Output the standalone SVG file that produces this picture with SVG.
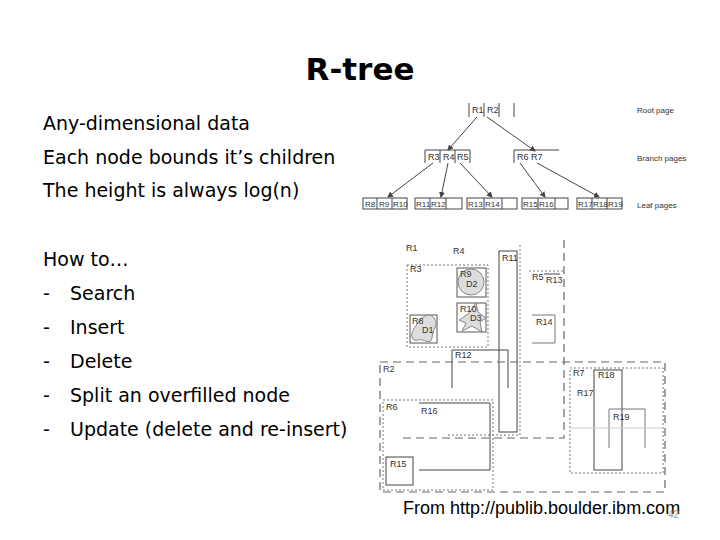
<svg xmlns="http://www.w3.org/2000/svg" width="720" height="540" viewBox="0 0 720 540">
<style>
.t{font-family:"DejaVu Sans",sans-serif;font-size:19px;fill:#000}
.s{font-family:"Liberation Sans",Arial,sans-serif;font-size:9px;fill:#333}
.l{font-family:"Liberation Sans",Arial,sans-serif;font-size:8px;fill:#333}
.b{fill:#fff;stroke:#444;stroke-width:1}
.ln{fill:none;stroke:#444;stroke-width:1}
.dot{fill:none;stroke:#777;stroke-width:1;stroke-dasharray:2 2}
.dash{fill:none;stroke:#666;stroke-width:1.2;stroke-dasharray:8 5}
</style>
<defs><marker id="a" markerWidth="6" markerHeight="6" refX="5" refY="3" orient="auto"><path d="M0,0L6,3L0,6z" fill="#444"/></marker></defs>
<rect width="720" height="540" fill="#fff"/>
<text x="360" y="80" text-anchor="middle" style="font-family:'DejaVu Sans',sans-serif;font-size:31px;font-weight:bold">R-tree</text>
<g id="bullets">
<text class="t" x="43" y="130">Any-dimensional data</text>
<text class="t" x="43" y="164">Each node bounds it’s children</text>
<text class="t" x="43" y="197">The height is always log(n)</text>
<text class="t" x="43" y="266">How to…</text>
<text class="t" x="43" y="300">-</text><text class="t" x="70" y="300">Search</text>
<text class="t" x="43" y="334">-</text><text class="t" x="70" y="334">Insert</text>
<text class="t" x="43" y="368">-</text><text class="t" x="70" y="368">Delete</text>
<text class="t" x="43" y="402">-</text><text class="t" x="70" y="402">Split an overfilled node</text>
<text class="t" x="43" y="436">-</text><text class="t" x="70" y="436">Update (delete and re-insert)</text>
</g>
<g id="root">
<path class="ln" d="M469,103V117M484,103V117M499,103V117M514,103V117"/>
<text class="s" x="472" y="113">R1</text><text class="s" x="487" y="113">R2</text>
</g>
<g id="branch1">
<path class="ln" d="M425,150H470M425,150V163M440,150V163M455,150V163M470,150V163"/>
<text class="s" x="428" y="160">R3</text><text class="s" x="443" y="160">R4</text><text class="s" x="457" y="160">R5</text>
</g>
<g id="branch2">
<path class="ln" d="M514,150H559M514,150V163"/>
<text class="s" x="517" y="160">R6</text><text class="s" x="531" y="160">R7</text>
</g>
<g id="leaves">
<rect class="b" x="363" y="198" width="44" height="11"/><path class="ln" d="M377,198V209M392,198V209"/>
<text class="l" x="365" y="207">R8</text><text class="l" x="379" y="207">R9</text><text class="l" x="393" y="207">R10</text>
<rect class="b" x="415" y="198" width="47" height="11"/><path class="ln" d="M430,198V209M446,198V209"/>
<text class="l" x="416" y="207">R11</text><text class="l" x="431" y="207">R12</text>
<rect class="b" x="467" y="198" width="50" height="11"/><path class="ln" d="M484,198V209M502,198V209"/>
<text class="l" x="468" y="207">R13</text><text class="l" x="485" y="207">R14</text>
<rect class="b" x="522" y="198" width="46" height="11"/><path class="ln" d="M538,198V209M555,198V209"/>
<text class="l" x="523" y="207">R15</text><text class="l" x="539" y="207">R16</text>
<rect class="b" x="577" y="198" width="45" height="11"/><path class="ln" d="M592,198V209M607,198V209"/>
<text class="l" x="578" y="207">R17</text><text class="l" x="593" y="207">R18</text><text class="l" x="608" y="207">R19</text>
</g>
<g id="connectors">
<path class="ln" marker-end="url(#a)" d="M477,117L448,150"/>
<path class="ln" marker-end="url(#a)" d="M487,117L535,151"/>
<path class="ln" marker-end="url(#a)" d="M433,163L388,197"/>
<path class="ln" marker-end="url(#a)" d="M448,163L441,197"/>
<path class="ln" marker-end="url(#a)" d="M460,163L492,197"/>
<path class="ln" marker-end="url(#a)" d="M520,163L545,197"/>
<path class="ln" marker-end="url(#a)" d="M537,163L599,197"/>
</g>
<g id="legend">
<text class="l" x="637" y="113">Root page</text>
<text class="l" x="637" y="161">Branch pages</text>
<text class="l" x="637" y="208">Leaf pages</text>
</g>
<g id="space">
<path class="dash" d="M564,240V438H403"/>
<path class="dot" d="M520,245V435H448"/>
<rect class="dot" x="407" y="265" width="81" height="82"/>
<rect x="457" y="268" width="29" height="29" fill="none" stroke="#555"/>
<circle cx="471" cy="282" r="13" fill="#ddd" stroke="#888"/>
<rect x="457" y="303" width="29" height="29" fill="none" stroke="#555"/>
<path d="M459,320L468,314L476,303L478,312L486,318L480,322L482,332L472,326L462,331L466,323z" fill="#ddd" stroke="#888"/>
<rect x="410" y="315" width="27" height="28" fill="none" stroke="#555"/>
<path d="M416,326C420,316 430,312 434,318C440,324 432,330 432,338C430,346 424,338 418,340C410,342 410,332 416,326z" fill="#ddd" stroke="#888"/>
<rect x="499" y="251" width="18" height="181" fill="none" stroke="#444"/>
<path class="dot" d="M529,271H563"/><path class="ln" d="M544,274H560"/>
<path fill="none" stroke="#777" d="M532,315H555V343H532"/>
<path class="ln" d="M452,388V350H508V388"/>
<rect class="dash" x="380" y="362" width="285" height="130"/>
<rect class="dot" x="383" y="400" width="110" height="90"/>
<path class="ln" d="M419,403H490V470H419"/>
<rect x="386" y="457" width="27" height="28" fill="none" stroke="#444"/>
<rect class="dot" x="570" y="368" width="93" height="105"/>
<rect x="594" y="370" width="28" height="100" fill="none" stroke="#444"/>
<path fill="none" stroke="#777" d="M609,448V409H645V448"/>
<path fill="none" stroke="#ccc" d="M570,428H663"/>
<text class="s" x="406" y="251">R1</text><text class="s" x="453" y="254">R4</text>
<text class="s" x="410" y="272">R3</text><text class="s" x="460" y="277">R9</text>
<text class="s" x="466" y="287">D2</text><text class="s" x="460" y="312">R10</text>
<text class="s" x="470" y="321">D3</text><text class="s" x="412" y="324">R8</text>
<text class="s" x="422" y="333">D1</text><text class="s" x="502" y="261">R11</text>
<text class="s" x="532" y="280">R5</text><text class="s" x="546" y="283">R13</text>
<text class="s" x="536" y="325">R14</text><text class="s" x="455" y="358">R12</text>
<text class="s" x="383" y="372">R2</text><text class="s" x="386" y="410">R6</text>
<text class="s" x="421" y="414">R16</text><text class="s" x="390" y="467">R15</text>
<text class="s" x="573" y="376">R7</text><text class="s" x="598" y="378">R18</text>
<text class="s" x="577" y="396">R17</text><text class="s" x="613" y="420">R19</text>
</g>
<text x="403" y="514" style="font-family:'Liberation Sans',Arial,sans-serif;font-size:18px">From http://publib.boulder.ibm.com</text>
<text x="668" y="518" style="font-family:'Liberation Sans',Arial,sans-serif;font-size:10px;fill:#999">42</text>
</svg>
